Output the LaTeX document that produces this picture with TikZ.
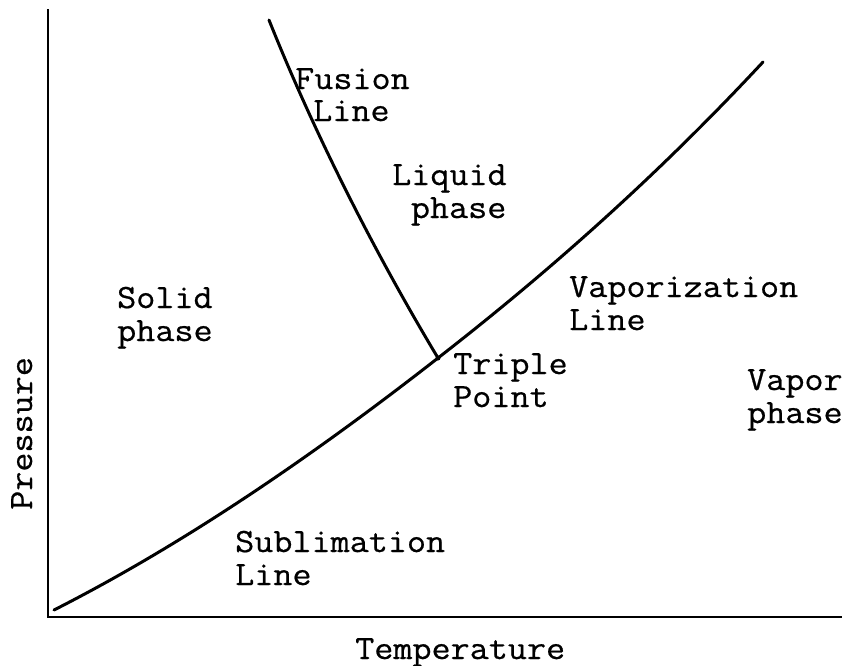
\documentclass[tikz,border=0pt]{standalone}
\usepackage{fontspec}
\setmonofont[FakeStretch=1.09,FakeBold=0.6]{Latin Modern Mono}
\begin{document}
\begin{tikzpicture}[x=1pt,y=-1pt,
  curve/.style={line width=3pt,line cap=round,line join=round},
  axis/.style={line width=2.8pt},
  lbl/.style={font=\ttfamily\fontsize{34}{33}\selectfont,inner sep=0pt,anchor=base west,align=left}]
\useasboundingbox (0,0) rectangle (842,665);
% axes
\coordinate (ytop) at (48,9);
\coordinate (orig) at (48,617);
\coordinate (xend) at (842,617);
\draw[axis] (ytop) -- (orig) -- (xend);
% curve points
\coordinate (s0) at (54,610);
\coordinate (tp) at (438,358);
\coordinate (v1) at (763,62);
\coordinate (f0) at (269,20);
\draw[curve] (s0) .. controls (182,545) and (310,458) .. (tp)
  .. controls (546,274) and (655,178) .. (v1);
\draw[curve] (f0) .. controls (313,130) and (372,248) .. (tp);
\fill (tp) circle (2.5pt);
% labels (anchor = baseline of the last line)
\node[lbl] (fusion) at (295,89) {Fusion};
\node[lbl] (fusionline) at (313,121) {Line};
\node[lbl] (liquid) at (392,218) {Liquid\\\hspace{0.55em}phase};
\node[lbl] (solid) at (117,341) {Solid\\phase};
\node[lbl] (vapline) at (569,330) {Vaporization\\Line};
\node[lbl] (triple) at (453,407) {Triple\\Point};
\node[lbl] (vapor) at (747,423) {Vapor\\phase};
\node[lbl] (subl) at (235,585) {Sublimation\\Line};
\node[lbl] (temp) at (355,659) {Temperature};
\node[lbl,rotate=90] (press) at (32,510) {Pressure};
\end{tikzpicture}
\end{document}
